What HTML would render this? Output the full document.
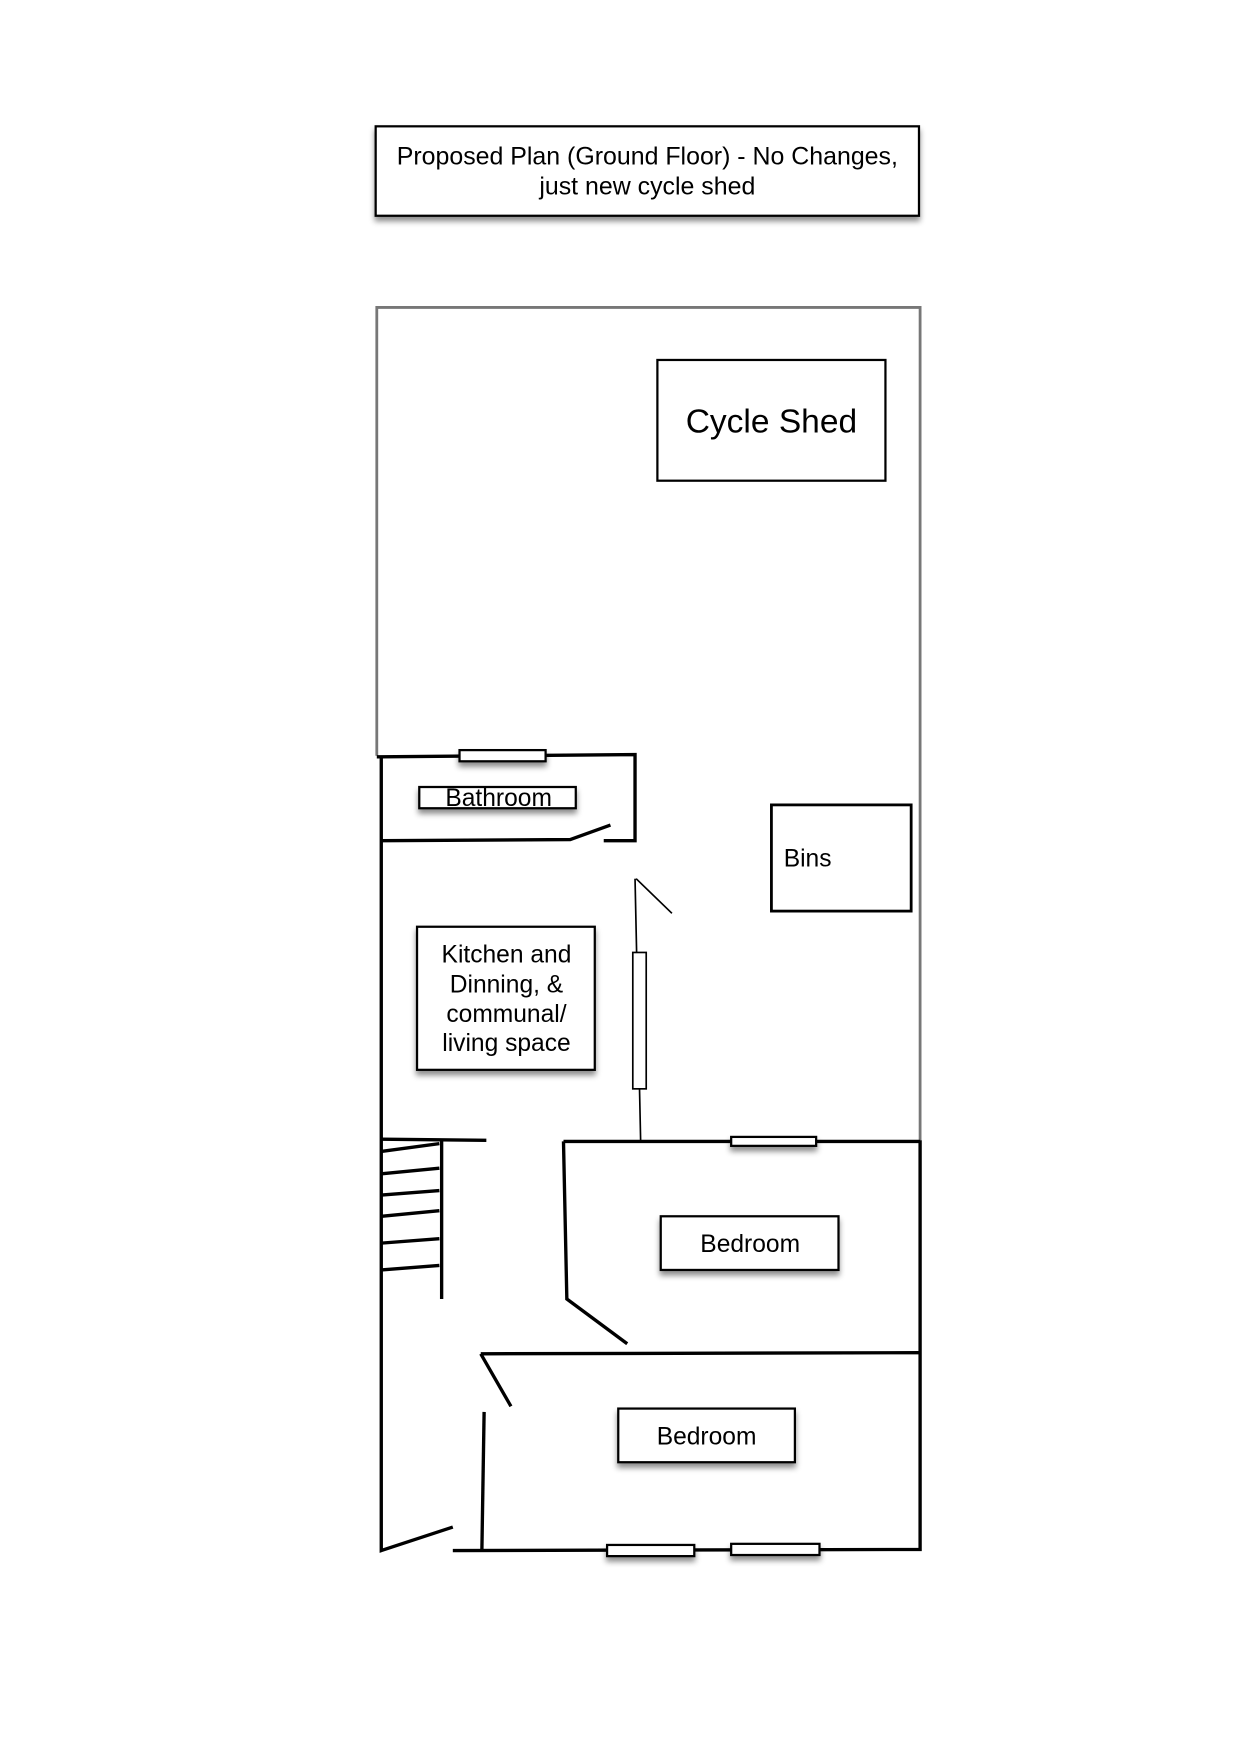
<!DOCTYPE html>
<html><head><meta charset="utf-8"><style>html,body{margin:0;padding:0;background:#fff}svg{display:block}</style></head>
<body>
<svg width="1241" height="1754" viewBox="0 0 1110 1569" xmlns="http://www.w3.org/2000/svg" font-family="Liberation Sans, sans-serif">
<defs><filter id="sh" x="-10%" y="-10%" width="130%" height="150%"><feDropShadow dx="0" dy="4" stdDeviation="2.5" flood-color="#000" flood-opacity="0.45"/></filter></defs>
<rect width="1110" height="1569" fill="#fff"/>
<rect x="336" y="113" width="486" height="80" fill="#fff" stroke="#000" stroke-width="2" filter="url(#sh)"/>
<text x="579" y="147" font-size="22.3" text-anchor="middle">Proposed Plan (Ground Floor) - No Changes,</text>
<text x="579" y="174" font-size="22.3" text-anchor="middle">just new cycle shed</text>
<path d="M337 676 L337 275 L823 275 L823 1020" fill="none" stroke="#777" stroke-width="2.5"/>
<rect x="588" y="322" width="204" height="108" fill="#fff" stroke="#000" stroke-width="2"/>
<text x="690" y="387" font-size="30" text-anchor="middle">Cycle Shed</text>
<g stroke="#000" stroke-width="3" fill="none">
<path d="M337 677 L568 675 L568 752 L540 752"/>
<path d="M341 752 L510 751 L546 738"/>
<path d="M341 676 L341 1387 L405 1366"/>
<path d="M341 1019 L435 1020"/>
<path d="M395 1020 L395 1162"/>
<path d="M341 1030 L393 1023 M341 1050 L393 1045 M341 1069 L393 1065 M341 1088 L393 1083 M341 1112 L393 1108 M341 1136 L393 1132"/>
<path d="M504 1021 L823 1021 M504 1021 L507 1162 L561 1202"/>
<path d="M823 1020 L823 1386 L405 1387"/>
<path d="M430 1211 L823 1210 M430 1211 L457 1258"/>
<path d="M433 1263 L431 1387"/>
</g>
<g stroke="#000" stroke-width="1.5" fill="none">
<path d="M568 786 L573 1020 M569 786 L601 817"/>
</g>
<rect x="690" y="720" width="125" height="95" fill="#fff" stroke="#000" stroke-width="2.5"/>
<text x="701" y="775" font-size="22">Bins</text>
<g fill="#fff" stroke="#000" stroke-width="2" filter="url(#sh)">
<rect x="411" y="671" width="77" height="10"/>
<rect x="375" y="704" width="140" height="19"/>
<rect x="373" y="829" width="159" height="128"/>
<rect x="654" y="1017" width="76" height="8"/>
<rect x="591" y="1088" width="159" height="48"/>
<rect x="553" y="1260" width="158" height="48"/>
<rect x="543" y="1382" width="78" height="10"/>
<rect x="654" y="1381" width="79" height="10"/>
</g>
<rect x="566" y="852" width="12" height="122" fill="#fff" stroke="#000" stroke-width="1.5"/>
<text x="446" y="721" font-size="22" text-anchor="middle">Bathroom</text>
<g font-size="22" text-anchor="middle">
<text x="453" y="861">Kitchen and</text>
<text x="453" y="888">Dinning, &amp;</text>
<text x="453" y="914">communal/</text>
<text x="453" y="940">living space</text>
<text x="671" y="1120">Bedroom</text>
<text x="632" y="1292">Bedroom</text>
</g>
</svg>
</body></html>
